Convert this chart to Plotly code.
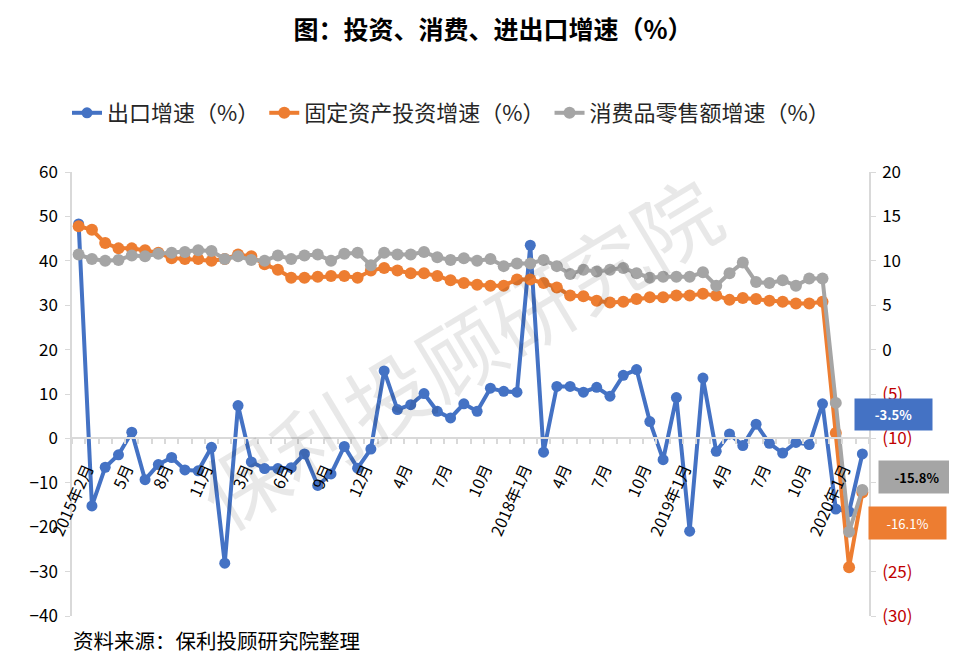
import plotly.graph_objects as go

# ---------------- data ----------------
months = (
    ["2015-%02d" % m for m in range(2, 13)]
    + ["2016-%02d" % m for m in range(2, 13)]
    + ["2017-%02d" % m for m in range(2, 13)]
    + ["2018-%02d" % m for m in range(1, 13)]
    + ["2019-%02d" % m for m in range(1, 13)]
    + ["2020-01", "2020-02", "2020-03"]
)

tick_months = ["2015-02", "2015-05", "2015-08", "2015-11", "2016-03", "2016-06",
               "2016-09", "2016-12", "2017-04", "2017-07", "2017-10", "2018-01",
               "2018-04", "2018-07", "2018-10", "2019-01", "2019-04", "2019-07",
               "2019-10", "2020-01"]
tick_labels = ["2015年2月", "5月", "8月", "11月", "3月", "6月", "9月", "12月",
               "4月", "7月", "10月", "2018年1月", "4月", "7月", "10月",
               "2019年1月", "4月", "7月", "10月", "2020年1月"]

export_growth = [48.3, -15.2, -6.5, -3.7, 1.4, -9.3, -5.9, -4.3, -7.1, -7.3, -2.0,
                 -28.1, 7.4, -5.3, -6.8, -6.8, -6.6, -3.5, -10.6, -8.0, -1.8, -6.7,
                 -2.4, 15.2, 6.5, 7.6, 10.1, 6.1, 4.6, 7.8, 6.1, 11.3, 10.6,
                 10.4, 43.5, -3.1, 11.7, 11.7, 10.4, 11.5, 9.5, 14.2, 15.5, 3.8, -4.8,
                 9.2, -20.9, 13.6, -2.9, 1.0, -1.6, 3.2, -1.1, -3.3, -0.9, -1.4, 7.8,
                 -15.9, -16.5, -3.5]

fai_growth = [13.9, 13.5, 12.0, 11.4, 11.4, 11.2, 10.9, 10.3, 10.2, 10.2, 10.0,
              10.2, 10.7, 10.5, 9.6, 9.0, 8.1, 8.1, 8.2, 8.3, 8.3, 8.1,
              8.9, 9.2, 8.9, 8.6, 8.6, 8.3, 7.8, 7.5, 7.3, 7.2, 7.2,
              7.9, 7.9, 7.5, 7.0, 6.1, 6.0, 5.5, 5.3, 5.4, 5.7, 5.9, 5.9,
              6.1, 6.1, 6.3, 6.1, 5.6, 5.8, 5.7, 5.5, 5.4, 5.2, 5.2, 5.4,
              -9.4, -24.5, -16.1]

retail_growth = [10.7, 10.2, 10.0, 10.1, 10.6, 10.5, 10.8, 10.9, 11.0, 11.2, 11.1,
                 10.2, 10.5, 10.1, 10.0, 10.6, 10.2, 10.6, 10.7, 10.0, 10.8, 10.9,
                 9.5, 10.9, 10.7, 10.7, 11.0, 10.4, 10.1, 10.3, 10.0, 10.2, 9.4,
                 9.7, 9.7, 10.1, 9.4, 8.5, 9.0, 8.8, 9.0, 9.2, 8.6, 8.1, 8.2,
                 8.2, 8.2, 8.7, 7.2, 8.6, 9.8, 7.6, 7.5, 7.8, 7.2, 8.0, 8.0,
                 -6.0, -20.5, -15.8]

left_ticks = [60, 50, 40, 30, 20, 10, 0, -10, -20, -30, -40]
right_ticks = [20, 15, 10, 5, 0, -5, -10, -15, -20, -25, -30]
right_hidden = [-15, -20]          # tick labels covered by the value boxes

series_names = ["出口增速（%）", "固定资产投资增速（%）", "消费品零售额增速（%）"]
latest_labels = ["-3.5%", "-15.8%", "-16.1%"]

# ---------------- styling ----------------
FONT = "Noto Sans CJK SC"
BLUE, ORANGE, GRAY = "#4472C4", "#ED7D31", "#A5A5A5"
AXIS = "#D9D9D9"
RED = "#C00000"

OFF = 8                      # page body margin
PAGE_W, PAGE_H = 957, 665
W, H = PAGE_W - OFF, PAGE_H - OFF
PLOT_L, PLOT_R, PLOT_T, PLOT_B = 72, 869, 172, 616   # page pixel coords of plot area
ML, MT = PLOT_L - OFF, PLOT_T - OFF
MR, MB = W - (PLOT_R - OFF), H - (PLOT_B - OFF)
PW, PH = PLOT_R - PLOT_L, PLOT_B - PLOT_T
LABEL_SHIFT = 0.6


def px_x(px):
    return (px - PLOT_L) / PW


def px_y(py):
    return (PLOT_B - py) / PH


x_idx = list(range(len(months)))
tick_pos = [months.index(m) + LABEL_SHIFT for m in tick_months]

fig = go.Figure()
fig.add_trace(go.Scatter(x=x_idx, y=export_growth, name=series_names[0],
                         mode="lines+markers", line=dict(color=BLUE, width=4),
                         marker=dict(color=BLUE, size=11), yaxis="y"))
fig.add_trace(go.Scatter(x=x_idx, y=fai_growth, name=series_names[1],
                         mode="lines+markers", line=dict(color=ORANGE, width=4),
                         marker=dict(color=ORANGE, size=12), yaxis="y2"))
fig.add_trace(go.Scatter(x=x_idx, y=retail_growth, name=series_names[2],
                         mode="lines+markers", line=dict(color=GRAY, width=4),
                         marker=dict(color=GRAY, size=12), yaxis="y2"))


def right_label(v):
    if v in right_hidden:
        return ""
    if v < 0:
        return '<span style="color:%s">(%d)</span>' % (RED, -v)
    return str(v)


fig.update_layout(
    width=W, height=H,
    margin=dict(l=ML, r=MR, t=MT, b=MB, pad=0),
    paper_bgcolor="white", plot_bgcolor="white",
    font=dict(family=FONT, color="#1a1a1a"),
    showlegend=True,
    title=dict(text="<b>图：投资、消费、进出口增速（%）</b>", x=(493 - OFF) / W,
               xanchor="center", y=1 - (30 - OFF) / H, yanchor="middle",
               font=dict(size=25, color="#000")),
    legend=dict(orientation="h", x=px_x(451), xanchor="center", y=px_y(113),
                yanchor="middle", font=dict(size=22, color="#262626"),
                itemwidth=30, bgcolor="rgba(0,0,0,0)"),
    xaxis=dict(range=[-0.5, len(months) - 0.5], anchor="free", position=0.4,
               showline=True, linecolor=AXIS, linewidth=1.5, showgrid=False,
               zeroline=False, tickmode="array", tickvals=tick_pos, ticktext=tick_labels,
               tickangle=-66, ticks="", ticklabelstandoff=14,
               tickfont=dict(size=16, color="#000"),
               minor=dict(ticks="outside", tick0=0.5, dtick=1, ticklen=5,
                          tickcolor=AXIS, tickwidth=1.5, showgrid=False)),
    yaxis=dict(range=[-40, 60], tickmode="array", tickvals=left_ticks,
               showline=True, linecolor=AXIS, linewidth=1.5, showgrid=False,
               zeroline=False, ticks="outside", ticklen=5, tickcolor=AXIS,
               ticklabelstandoff=4, tickfont=dict(size=17, color="#000")),
    yaxis2=dict(range=[-30, 20], overlaying="y", side="right", tickmode="array",
                tickvals=right_ticks, ticktext=[right_label(v) for v in right_ticks],
                showline=True, linecolor=AXIS, linewidth=1.5, showgrid=False,
                zeroline=False, ticks="outside", ticklen=5, tickcolor=AXIS,
                ticklabelstandoff=3, tickfont=dict(size=17, color="#000")),
)

annotations = [
    # watermark
    dict(text="保利投顾研究院", x=px_x(458), y=px_y(350), xref="paper", yref="paper",
         xanchor="center", yanchor="middle", showarrow=False, textangle=-31,
         font=dict(size=84, color="rgba(0,0,0,0.09)")),
    # source note
    dict(text="资料来源：保利投顾研究院整理", x=px_x(71), y=px_y(640), xref="paper",
         yref="paper", xanchor="left", yanchor="middle", showarrow=False,
         font=dict(size=20.5, color="#000")),
    # latest value boxes
    dict(text="<b>%s</b>" % latest_labels[0], x=px_x(893.5), y=px_y(414), xref="paper",
         yref="paper", xanchor="center", yanchor="middle", showarrow=False,
         bgcolor=BLUE, width=77, height=31, borderpad=0,
         font=dict(size=13, color="white")),
    dict(text="<b>%s</b>" % latest_labels[1], x=px_x(917.5), y=px_y(477), xref="paper",
         yref="paper", xanchor="center", yanchor="middle", showarrow=False,
         bgcolor=GRAY, width=76, height=32, borderpad=0,
         font=dict(size=13, color="black")),
    dict(text="%s" % latest_labels[2], x=px_x(907), y=px_y(523), xref="paper",
         yref="paper", xanchor="center", yanchor="middle", showarrow=False,
         bgcolor=ORANGE, width=77, height=32, borderpad=0,
         font=dict(size=13, color="white")),
]
fig.update_layout(annotations=annotations)

fig.write_html("out.html")
